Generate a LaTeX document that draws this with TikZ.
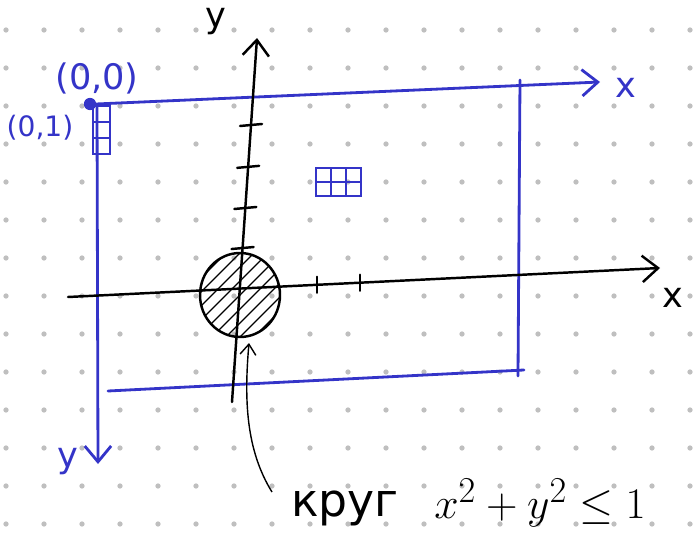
\documentclass[tikz,border=0pt]{standalone}
\usepackage{fontspec}
\setmainfont{DejaVu Sans}
\usetikzlibrary{arrows.meta,positioning,calc}
\definecolor{scrblue}{RGB}{52,52,200}

\begin{document}
\begin{tikzpicture}[x=0.02cm, y=-0.02cm,
        >={Straight Barb[length=9pt,width=15pt]},
        gridpt/.style={fill=black!25},
        scr/.style={draw=scrblue, line width=1.6pt, line cap=round},
        ax/.style={draw=black, line width=1.4pt, line cap=round},
        lbl/.style={inner sep=0pt, font=\fontsize{20}{24}\selectfont}]

    \useasboundingbox (0,0) rectangle (697,541);

    % dotted paper
    \foreach \i in {0,...,18}
        \foreach \j in {0,...,13}
            \fill[gridpt] (6+38*\i, 30+38*\j) circle (1.5pt);

    % screen coordinates (blue)
    \coordinate (o) at (90,104);
    \coordinate (tl) at (96,104);
    \coordinate (tr) at (600,82);
    \coordinate (rt) at (520,80);
    \coordinate (rb) at (518,376);
    \coordinate (bl) at (108,391);
    \coordinate (br) at (524,370);
    \coordinate (lt) at (97,106);
    \coordinate (lb) at (98,464);

    \draw[scr,->] (tl) -- (tr);
    \draw[scr] (rt) -- (rb);
    \draw[scr] (bl) -- (br);
    \draw[scr,->] (lt) -- (lb);
    \fill[scrblue] (o) circle (3.5pt);

    \foreach \k in {0,1,2}
        \draw[scr, line width=1.1pt] (93,106+16*\k) rectangle ++(17,16);
    \foreach \i in {0,1,2}
        \foreach \k in {0,1}
            \draw[scr, line width=1.1pt] (316+15*\i,168+14*\k) rectangle ++(15,14);

    \node[lbl, text=scrblue] (zero) at (97,78) {(0,0)};
    \node[lbl, text=scrblue, font=\fontsize{16}{20}\selectfont] (one) at (40,128) {(0,1)};
    \node[lbl, text=scrblue] (sx) at (626,88) {x};
    \node[lbl, text=scrblue] (sy) at (68,462) {y};

    % math axes (black)
    \coordinate (xs) at (68,297);
    \coordinate (xe) at (660,268);
    \coordinate (ys) at (232,402);
    \coordinate (ye) at (257,38);
    \draw[ax,->] (xs) -- (xe);
    \draw[ax,->] (ys) -- (ye);
    \foreach \t in {0.423,0.533,0.646,0.761}
        \draw[ax] ($(ys)!\t!(ye)$) +(-11,1) -- +(11,-1);
    \foreach \t in {0.421,0.493}
        \draw[ax] ($(xs)!\t!(xe)$) +(0,-8) -- +(0,8);

    \node[lbl] (mx) at (673,298) {x};
    \node[lbl] (my) at (216,22) {y};

    % unit disc
    \coordinate (c) at (240,295);
    \begin{scope}
        \clip (c) ellipse (0.8cm and 0.84cm);
        \foreach \d in {-84,-70,...,84}
            \draw[line width=0.8pt] ($(c)+(\d-50,50)$) -- ($(c)+(\d+50,-50)$);
    \end{scope}
    \draw[ax] (c) ellipse (0.8cm and 0.84cm);

    \coordinate (cs) at (272,492);
    \coordinate (ce) at (249,343);
    \draw[line width=0.8pt, -{Straight Barb[length=6pt,width=9pt]}]
        (cs) .. controls (246,450) and (244,400) .. (ce);

    \node[lbl, font=\fontsize{26}{30}\selectfont] (krug) at (345,508) {круг};
    \node[lbl, font=\fontsize{28}{32}\selectfont] (ineq) at (540,503) {$x^2+y^2\leq 1$};
\end{tikzpicture}
\end{document}
